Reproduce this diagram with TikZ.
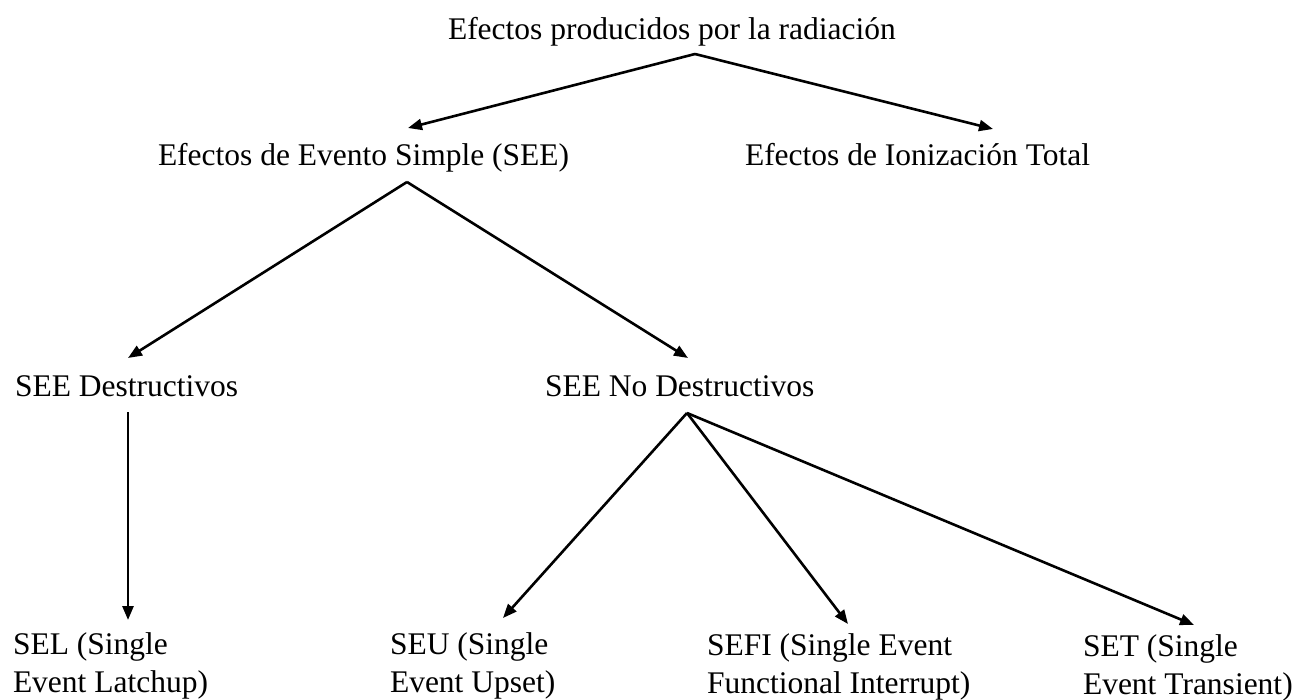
\documentclass[tikz,border=0pt]{standalone}
\usepackage{fontspec}
\setmainfont{Liberation Serif}
\usetikzlibrary{arrows.meta,calc}
\tikzset{
  lbl/.style={anchor=base west, inner sep=0pt, outer sep=0pt, font=\fontsize{31.5}{38}\selectfont, align=left},
  arr/.style={line width=2.6pt, -{Triangle[length=14pt,width=11pt]}}
}
\begin{document}
\begin{tikzpicture}[x=1pt,y=-1pt]
\useasboundingbox (0,0) rectangle (1293,700);
\node[lbl] (top) at (448,40) {Efectos producidos por la radiación};
\node[lbl] (see) at (158,166) {Efectos de Evento Simple (SEE)};
\node[lbl] (tid) at (745,166) {Efectos de Ionización Total};
\node[lbl] (dest) at (15,397) {SEE Destructivos};
\node[lbl] (nodest) at (545,397) {SEE No Destructivos};
\node[lbl] (sel) at (13,692) {SEL (Single\\Event Latchup)};
\node[lbl] (seu) at (390,692) {SEU (Single\\Event Upset)};
\node[lbl] (sefi) at (707,693) {SEFI (Single Event\\Functional Interrupt)};
\node[lbl] (set) at (1083,694) {SET (Single\\Event Transient)};

\draw[arr] ($(top.base west)+(247,14)$) -- ($(see.base west)+(250,-38)$);
\draw[arr] ($(top.base west)+(247,14)$) -- ($(tid.base west)+(248,-37)$);
\draw[arr] ($(see.base west)+(249,16)$) -- ($(dest.base west)+(113,-39)$);
\draw[arr] ($(see.base west)+(249,16)$) -- ($(nodest.base west)+(143,-39)$);
\draw[arr] ($(dest.base west)+(113,15)$) -- ($(sel.base west)+(115,-72)$);
\draw[arr] ($(nodest.base west)+(142,16)$) -- ($(seu.base west)+(113,-74)$);
\draw[arr] ($(nodest.base west)+(142,16)$) -- ($(sefi.base west)+(141,-69)$);
\draw[arr] ($(nodest.base west)+(142,16)$) -- ($(set.base west)+(111,-69)$);
\end{tikzpicture}
\end{document}
